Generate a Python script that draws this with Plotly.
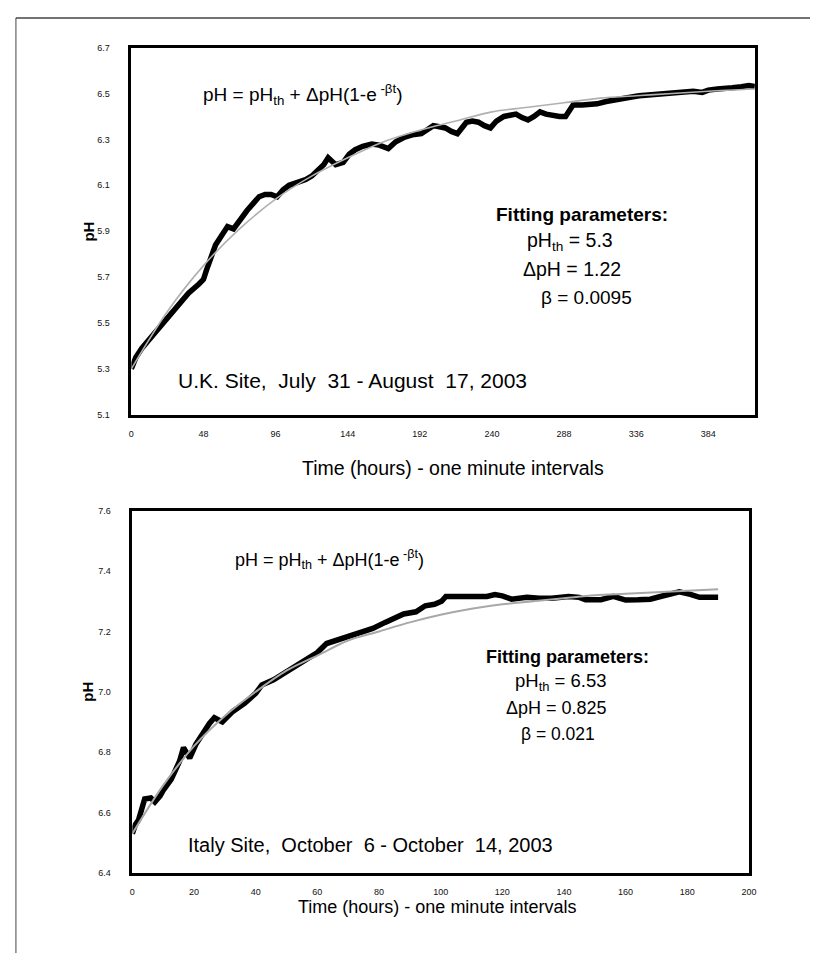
import plotly.graph_objects as go

# ---------------- data ----------------
uk_time = [0, 3, 7, 12, 18, 24, 31, 38, 45, 48, 50, 53, 56, 60, 64, 68, 72, 77, 81, 85,
           89, 93, 97, 101, 105, 110, 116, 120, 124, 128, 131, 133, 136, 141, 145, 149,
           154, 160, 165, 171, 176, 182, 187, 193, 197, 201, 205, 209, 213, 217, 220,
           223, 227, 231, 235, 239, 243, 248, 252, 256, 260, 264, 268, 272, 276, 280,
           285, 289, 292, 294, 300, 305, 310, 316, 322, 327, 333, 338, 345, 352, 360,
           367, 374, 380, 384, 390, 395, 400, 406, 411, 415]
uk_ph = [5.30, 5.35, 5.39, 5.43, 5.47, 5.52, 5.575, 5.63, 5.67, 5.69, 5.73, 5.78, 5.84,
         5.88, 5.92, 5.91, 5.95, 5.99, 6.02, 6.05, 6.06, 6.06, 6.05, 6.08, 6.10, 6.11,
         6.125, 6.14, 6.165, 6.19, 6.22, 6.205, 6.19, 6.20, 6.235, 6.255, 6.27, 6.28,
         6.275, 6.26, 6.29, 6.31, 6.32, 6.325, 6.345, 6.36, 6.355, 6.35, 6.335, 6.325,
         6.35, 6.375, 6.38, 6.375, 6.36, 6.35, 6.38, 6.40, 6.405, 6.41, 6.395, 6.385,
         6.40, 6.42, 6.41, 6.405, 6.40, 6.40, 6.43, 6.45, 6.45, 6.45, 6.455, 6.465, 6.47,
         6.48, 6.485, 6.49, 6.495, 6.50, 6.50, 6.505, 6.51, 6.505, 6.515, 6.52, 6.52,
         6.525, 6.53, 6.535, 6.53]

uk_fit_time = [0, 24, 48, 72, 96, 120, 144, 168, 192, 216, 240, 264, 288, 312, 336, 360, 384, 415]
uk_fit_ph = [5.30, 5.55, 5.75, 5.91, 6.04, 6.14, 6.22, 6.29, 6.34, 6.38, 6.42, 6.44,
             6.46, 6.48, 6.49, 6.50, 6.51, 6.52]

it_time = [0, 1, 2, 4, 6, 7.3, 9, 10, 12.6, 15.3, 16.6, 18.6, 20.6, 23.3, 25, 26.6, 29.2,
           32.6, 36.5, 40, 42, 45.8, 51, 56.5, 60, 63, 66, 70, 75, 78, 82, 85, 88, 92, 95,
           98, 100.3, 101.7, 105, 108, 112, 115, 117.6, 120, 123, 128, 132, 136, 141.5,
           145, 147, 152, 156, 160, 164, 168, 171, 173.4, 177.4, 181, 184, 187, 190]
it_ph = [6.53, 6.56, 6.575, 6.645, 6.648, 6.635, 6.655, 6.673, 6.71, 6.77, 6.815, 6.78,
         6.826, 6.87, 6.895, 6.914, 6.90, 6.935, 6.963, 6.995, 7.023, 7.04, 7.072, 7.105,
         7.13, 7.16, 7.17, 7.187, 7.203, 7.21, 7.23, 7.245, 7.258, 7.265, 7.285, 7.29,
         7.30, 7.316, 7.316, 7.316, 7.313, 7.316, 7.322, 7.318, 7.307, 7.313, 7.31, 7.31,
         7.316, 7.313, 7.305, 7.305, 7.316, 7.304, 7.305, 7.307, 7.315, 7.32, 7.331,
         7.323, 7.313, 7.313, 7.313]

it_fit_time = [0, 10, 20, 30, 40, 50, 60, 70, 80, 90, 100, 110, 120, 130, 140, 150, 160, 170, 180, 190]
it_fit_ph = [6.53, 6.69, 6.82, 6.92, 7.00, 7.07, 7.12, 7.17, 7.20, 7.23, 7.255, 7.275,
             7.29, 7.30, 7.31, 7.32, 7.325, 7.33, 7.335, 7.34]

uk_xticks = [0, 48, 96, 144, 192, 240, 288, 336, 384]
uk_yticks = [5.1, 5.3, 5.5, 5.7, 5.9, 6.1, 6.3, 6.5, 6.7]
it_xticks = [0, 20, 40, 60, 80, 100, 120, 140, 160, 180, 200]
it_yticks = [6.4, 6.6, 6.8, 7.0, 7.2, 7.4, 7.6]

# ---------------- figure ----------------
W, H = 818, 953
FONT = "Liberation Sans, Arial, sans-serif"

fig = go.Figure()
fig.add_trace(go.Scatter(x=uk_time, y=uk_ph, mode="lines", xaxis="x", yaxis="y",
                         line=dict(color="black", width=5.5), showlegend=False))
fig.add_trace(go.Scatter(x=uk_fit_time, y=uk_fit_ph, mode="lines", xaxis="x", yaxis="y",
                         line=dict(color="#b0b0b0", width=1.6, shape="spline"), showlegend=False))
fig.add_trace(go.Scatter(x=it_time, y=it_ph, mode="lines", xaxis="x2", yaxis="y2",
                         line=dict(color="black", width=5.5), showlegend=False))
fig.add_trace(go.Scatter(x=it_fit_time, y=it_fit_ph, mode="lines", xaxis="x2", yaxis="y2",
                         line=dict(color="#a8a8a8", width=2, shape="spline"), showlegend=False))

def px_x(p):
    return p / W

def px_y(p):
    return 1 - p / H

axis_common = dict(showgrid=False, zeroline=False, showline=True, linecolor="black",
                   linewidth=2.5, mirror=True, ticks="",
                   tickfont=dict(family=FONT, size=9, color="#111"))

fig.update_layout(
    width=W, height=H, margin=dict(l=0, r=0, t=0, b=0),
    paper_bgcolor="white", plot_bgcolor="white",
    xaxis=dict(domain=[px_x(122), px_x(754)], range=[0, 415], anchor="y",
               tickvals=uk_xticks, ticktext=[str(v) for v in uk_xticks],
               ticklabelstandoff=9, **axis_common),
    yaxis=dict(domain=[px_y(406), px_y(35)], range=[5.1, 6.7], anchor="x",
               tickvals=uk_yticks, ticktext=[f"{v:.1f}" for v in uk_yticks],
               ticklabelstandoff=17, **axis_common),
    xaxis2=dict(domain=[px_x(123), px_x(748)], range=[0, 200], anchor="y2",
                tickvals=it_xticks, ticktext=[str(v) for v in it_xticks],
                ticklabelstandoff=9, **axis_common),
    yaxis2=dict(domain=[px_y(869), px_y(503)], range=[6.4, 7.6], anchor="x2",
                tickvals=it_yticks, ticktext=[f"{v:.1f}" for v in it_yticks],
                ticklabelstandoff=17, **axis_common),
)

ann = []
def text(x, y, s, xref, yref, size=15, bold=False, xanchor="center", angle=0, fam=FONT):
    if bold:
        s = f"<b>{s}</b>"
    ann.append(dict(x=x, y=y, xref=xref, yref=yref, text=s, showarrow=False,
                    xanchor=xanchor, yanchor="middle", textangle=angle,
                    font=dict(family=fam, size=size, color="black")))

# top panel texts
text(46.5, 6.494, "pH = pH<sub>th</sub> + ΔpH(1-e<sup> -βt</sup>)", "x", "y", size=19, xanchor="left")
text(300, 5.973, "Fitting parameters:", "x", "y", size=19, bold=True)
text(292, 5.857, "pH<sub>th</sub> = 5.3", "x", "y", size=19.5)
text(293, 5.734, "ΔpH = 1.22", "x", "y", size=19.5)
text(303, 5.61, "β = 0.0095", "x", "y", size=19)
text(30, 5.249, "U.K. Site,  July  31 - August  17, 2003", "x", "y", size=21, xanchor="left")

# bottom panel texts
text(32.6, 7.438, "pH = pH<sub>th</sub> + ΔpH(1-e<sup> -βt</sup>)", "x2", "y2", size=18, xanchor="left")
text(141, 7.116, "Fitting parameters:", "x2", "y2", size=18, bold=True)
text(139, 7.034, "pH<sub>th</sub> = 6.53", "x2", "y2", size=18.5)
text(137.5, 6.946, "ΔpH = 0.825", "x2", "y2", size=18)
text(138, 6.859, "β = 0.021", "x2", "y2", size=17.5)
text(17.5, 6.493, "Italy Site,  October  6 - October  14, 2003", "x2", "y2", size=20, xanchor="left")

# axis titles
text(px_x(448), px_y(460), "Time (hours) - one minute intervals", "paper", "paper", size=19.5)
text(px_x(432), px_y(903), "Time (hours) - one minute intervals", "paper", "paper", size=18)
text(px_x(79), px_y(221), "pH", "paper", "paper", size=15, bold=True, angle=-90)
text(px_x(78), px_y(686), "pH", "paper", "paper", size=15, bold=True, angle=-90)

fig.update_layout(annotations=ann)

# outer frame of the figure (scan border)
shapes = [
    dict(type="line", xref="paper", yref="paper", x0=px_x(5), x1=px_x(5), y0=0, y1=px_y(5),
         line=dict(color="#444", width=1)),
    dict(type="line", xref="paper", yref="paper", x0=px_x(5), x1=px_x(813), y0=px_y(5), y1=px_y(5),
         line=dict(color="#444", width=1.5)),
    dict(type="line", xref="paper", yref="paper", x0=px_x(813), x1=px_x(813), y0=0, y1=px_y(5),
         line=dict(color="#666", width=1)),
]
fig.update_layout(shapes=shapes)

fig.write_html("out.html")
